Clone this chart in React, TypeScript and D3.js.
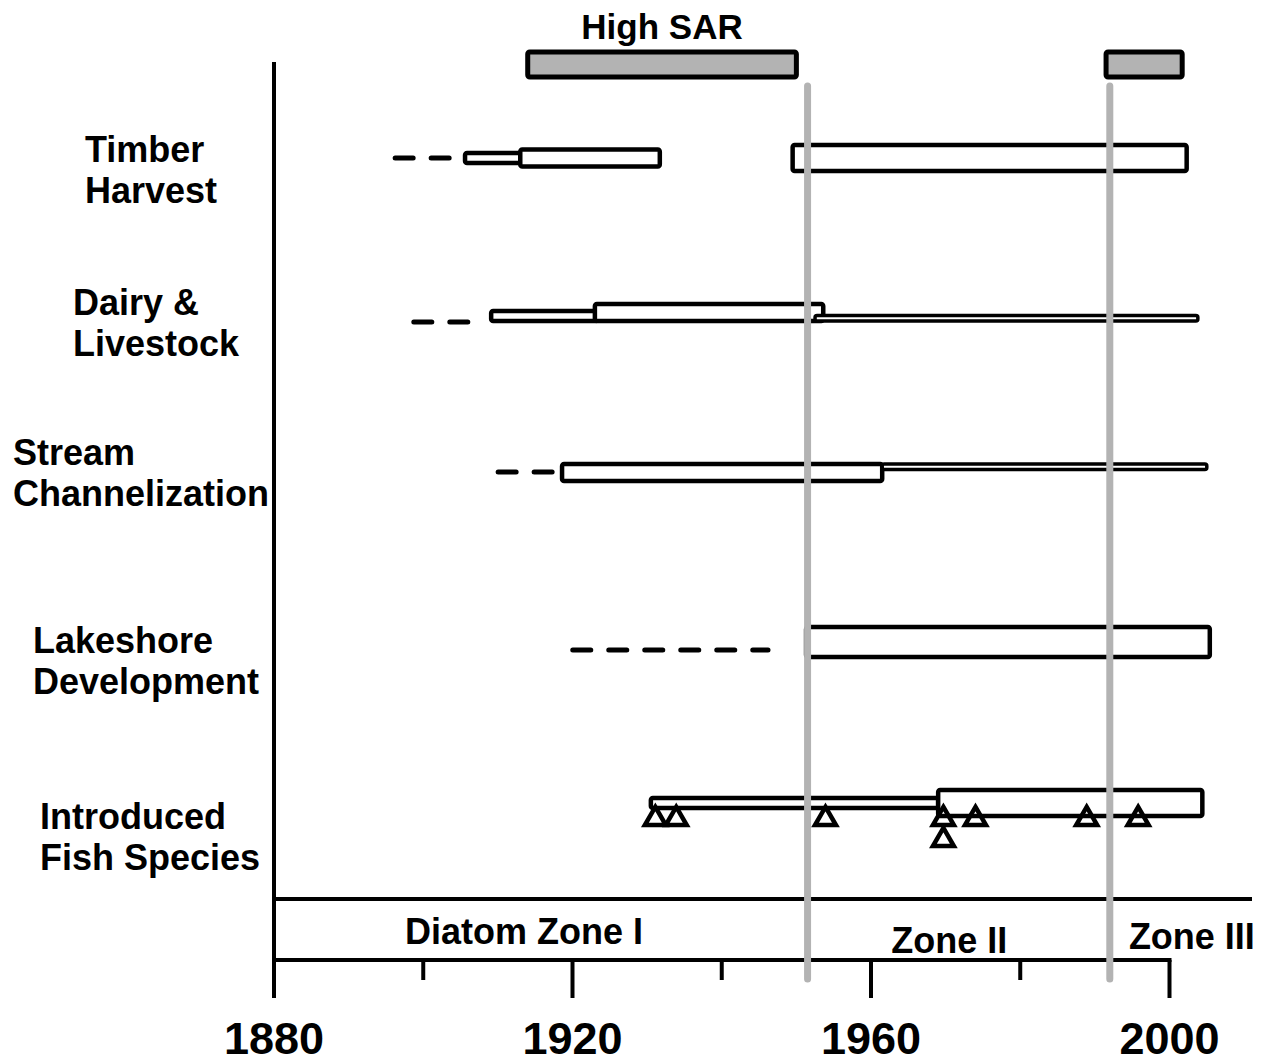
import * as d3 from "d3";

// ---- data (years) ----
const activities = [
  "Timber Harvest",
  "Dairy & Livestock",
  "Stream Channelization",
  "Lakeshore Development",
  "Introduced Fish Species",
];

const activityLabels = [
  ["Timber", "Harvest"],
  ["Dairy &", "Livestock"],
  ["Stream", "Channelization"],
  ["Lakeshore", "Development"],
  ["Introduced", "Fish Species"],
];

// dashed = poorly documented / sporadic, boxes = documented activity
const timberPeriods = [
  { start: 1895.9, end: 1904.9, kind: "dash" },
  { start: 1905.6, end: 1913, kind: "narrow" },
  { start: 1913, end: 1931.7, kind: "mid" },
  { start: 1949.5, end: 2002.3, kind: "tall" },
];
const dairyPeriods = [
  { start: 1898.4, end: 1906.3, kind: "dash" },
  { start: 1909.1, end: 1923.4, kind: "narrow" },
  { start: 1923, end: 1953.6, kind: "mid" },
  { start: 1952.5, end: 2003.8, kind: "thin" },
];
const streamPeriods = [
  { start: 1909.7, end: 1917.9, kind: "dash" },
  { start: 1918.6, end: 1961.5, kind: "mid" },
  { start: 1961.5, end: 2005, kind: "thin" },
];
const lakeshorePeriods = [
  { start: 1919.7, end: 1946.2, kind: "dash" },
  { start: 1951.3, end: 2005.4, kind: "wide" },
];
const fishPeriods = [
  { start: 1930.5, end: 1969, kind: "narrow" },
  { start: 1969, end: 2004.4, kind: "tall" },
];

// individual fish introductions (stack = second record in same year)
const fishIntroductions = [
  { year: 1931.1, stack: 0 },
  { year: 1933.9, stack: 0 },
  { year: 1953.9, stack: 0 },
  { year: 1969.7, stack: 0 },
  { year: 1969.7, stack: 1 },
  { year: 1974, stack: 0 },
  { year: 1988.9, stack: 0 },
  { year: 1995.8, stack: 0 },
];

const highSarPeriods = [
  { start: 1914, end: 1950 },
  { start: 1991.5, end: 2001.7 },
];

const zoneBoundaries = [1951.5, 1992];
const zoneLabels = ["Diatom Zone I", "Zone II", "Zone III"];
const zoneLabelYears = [1913.5, 1970.5, 2003];

const majorTicks = [1880, 1920, 1960, 2000];
const minorTicks = [1900, 1940, 1980];

// ---- layout ----
const W = 1267;
const H = 1064;
const FONT = "'Liberation Sans', Arial, sans-serif";

const x = d3.scaleLinear().domain([1880, 2000]).range([274, 1169.5]);

const rowRef = d3.scaleOrdinal<string, number>().domain(activities).range([158, 321, 464, 642, 803]);
const rowAlign = ["center", "bottom", "top", "center", "center"];
const dashOffset = [0, 1, 8, 8, 0];
const labelX = [85, 73, 13, 33, 40];
const labelBase = [162, 315, 465, 653, 829];
const kindHeight: Record<string, number> = { thin: 5.5, narrow: 10, mid: 17, tall: 26, wide: 30 };
const kindStroke: Record<string, number> = { thin: 3.5, narrow: 4.5, mid: 4.5, tall: 4.5, wide: 4.5 };

const allPeriods = [timberPeriods, dairyPeriods, streamPeriods, lakeshorePeriods, fishPeriods];

const triangle = d3.symbol().type(d3.symbolTriangle).size(190)();

export default function App() {
  const axisTop = 899;
  const axisY = 960;
  const axisRight = 1252;

  return (
    <svg
      width={W}
      height={H}
      viewBox={`0 0 ${W} ${H}`}
      style={{ position: "absolute", left: 0, top: 0, background: "#fff" }}
      fontFamily={FONT}
      fontWeight="bold"
    >
      <rect width={W} height={H} fill="#fff" />

      {/* row labels */}
      {activityLabels.map((lines, i) => (
        <text key={i} x={labelX[i]} y={labelBase[i]} fontSize={36} fill="#000">
          {lines.map((l, j) => (
            <tspan key={j} x={labelX[i]} y={labelBase[i] + j * 41}>
              {l}
            </tspan>
          ))}
        </text>
      ))}

      {/* activity periods */}
      {allPeriods.map((periods, i) => {
        const ref = rowRef(activities[i]);
        return (
          <g key={i}>
            {periods.map((p, j) => {
              if (p.kind === "dash") {
                const y = ref + dashOffset[i];
                return (
                  <line
                    key={j}
                    x1={x(p.start) + 2.5}
                    x2={x(p.end)}
                    y1={y}
                    y2={y}
                    stroke="#000"
                    strokeWidth={5}
                    strokeDasharray="18 18"
                    strokeLinecap="round"
                  />
                );
              }
              const h = kindHeight[p.kind];
              let y0 = ref - h / 2;
              if (rowAlign[i] === "bottom") y0 = ref - h;
              if (rowAlign[i] === "top") y0 = ref;
              return (
                <rect
                  key={j}
                  x={x(p.start)}
                  y={y0}
                  width={x(p.end) - x(p.start)}
                  height={h}
                  rx={2}
                  fill="#fff"
                  stroke="#000"
                  strokeWidth={kindStroke[p.kind]}
                  strokeLinejoin="round"
                />
              );
            })}
          </g>
        );
      })}

      {/* fish introductions */}
      {fishIntroductions.map((d, i) => (
        <path
          key={i}
          d={triangle as string}
          transform={`translate(${x(d.year)},${819 + d.stack * 21})`}
          fill="none"
          stroke="#000"
          strokeWidth={4.5}
          strokeLinejoin="miter"
        />
      ))}

      {/* high SAR */}
      <text x={(x(highSarPeriods[0].start) + x(highSarPeriods[0].end)) / 2} y={39} fontSize={35} textAnchor="middle">
        High SAR
      </text>
      {highSarPeriods.map((p, i) => (
        <rect
          key={i}
          x={x(p.start)}
          y={52}
          width={x(p.end) - x(p.start)}
          height={25}
          rx={2}
          fill="#b3b3b3"
          stroke="#000"
          strokeWidth={5}
        />
      ))}

      {/* axes */}
      <line x1={x(1880)} x2={x(1880)} y1={62} y2={998} stroke="#000" strokeWidth={4} />
      <line x1={x(1880)} x2={axisRight} y1={axisTop} y2={axisTop} stroke="#000" strokeWidth={4} />
      <line x1={x(1880)} x2={x(2000) + 2} y1={axisY} y2={axisY} stroke="#000" strokeWidth={4} />
      {majorTicks.map((t) => (
        <g key={t}>
          <line x1={x(t)} x2={x(t)} y1={axisY} y2={998} stroke="#000" strokeWidth={4} />
          <text x={x(t)} y={1054} fontSize={45} textAnchor="middle">
            {t}
          </text>
        </g>
      ))}
      {minorTicks.map((t) => (
        <line key={t} x1={x(t)} x2={x(t)} y1={axisY} y2={980} stroke="#000" strokeWidth={4} />
      ))}

      {/* zone labels */}
      {zoneLabels.map((z, i) => (
        <text key={z} x={x(zoneLabelYears[i])} y={[944, 953, 949][i]} fontSize={36} textAnchor="middle">
          {z}
        </text>
      ))}

      {/* diatom zone boundaries */}
      {zoneBoundaries.map((b) => (
        <line
          key={b}
          x1={x(b)}
          x2={x(b)}
          y1={86}
          y2={979}
          stroke="#b3b3b3"
          strokeWidth={7}
          strokeLinecap="round"
        />
      ))}
    </svg>
  );
}
